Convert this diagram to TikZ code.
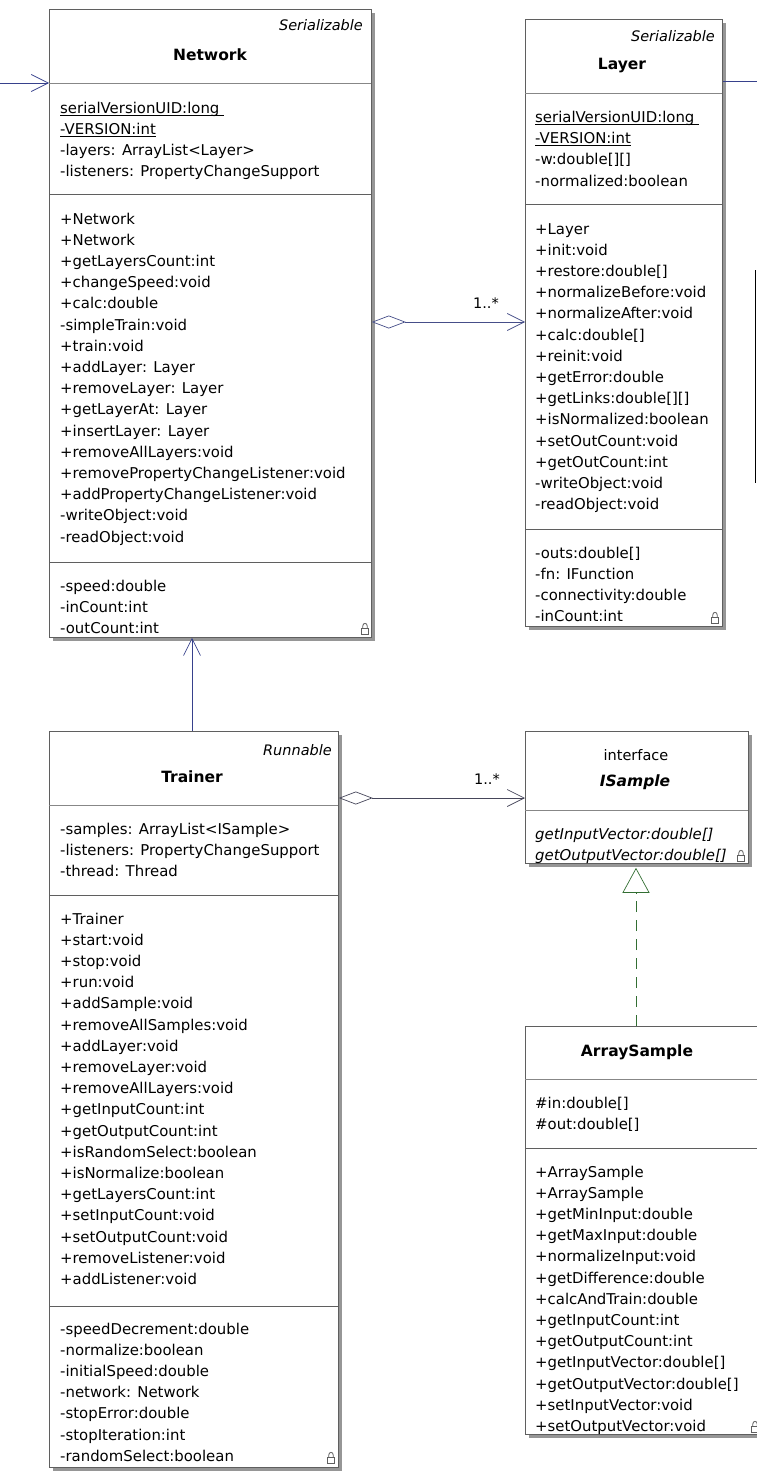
\documentclass[tikz,border=0pt]{standalone}
\usepackage{fontspec}
\setmainfont{DejaVu Sans}
\usetikzlibrary{arrows.meta,shadows}
\definecolor{boxgray}{RGB}{95,95,95}
\definecolor{sepgray}{RGB}{135,135,135}
\definecolor{shadowgray}{RGB}{150,150,150}
\definecolor{linkblue}{RGB}{55,65,140}
\definecolor{linkgray}{RGB}{70,70,90}
\definecolor{realgreen}{RGB}{50,110,50}
\newcommand\rowfont{\fontsize{14.9}{18}\selectfont}
\newcommand\ulx[1]{\setbox0=\hbox{#1}\rlap{\rule[-2.2pt]{\wd0}{0.7pt}}\box0}
\newcommand\umlrows[5]{\foreach \t [count=\i from 0] in {#5}{\node[row,#4] (#1\i) at (#2,{#3+21.2*\i}) {\t};}}
\tikzset{
  x=1pt, y=-1pt,
  classbox/.style={draw=boxgray, fill=white, line width=0.8pt, inner sep=0pt, anchor=north west,
    drop shadow={shadow xshift=4pt, shadow yshift=-4pt, fill=shadowgray, opacity=1}},
  row/.style={anchor=base west, inner sep=0pt, font=\rowfont},
  titletext/.style={anchor=base, inner sep=0pt, font=\fontsize{15.5}{18}\selectfont\bfseries},
  stereo/.style={anchor=base east, inner sep=0pt, font=\fontsize{14.5}{18}\selectfont\itshape},
  sepline/.style={boxgray, line width=0.8pt},
  titlesep/.style={sepgray, line width=0.8pt},
  mult/.style={anchor=center, inner sep=0pt, font=\fontsize{14.5}{18}\selectfont},
  assoc/.style={linkblue, line width=0.7pt, -{Straight Barb[length=17pt,width=17pt]}},
  aggr/.style={line width=0.7pt, {Diamond[open,length=34pt,width=13pt]}-{Straight Barb[length=17pt,width=17pt]}},
  realz/.style={realgreen, line width=0.7pt, dash pattern=on 11pt off 8pt, -{Triangle[open,length=25pt,width=27pt]}},
  lock/.pic={
    \draw[boxgray, line width=0.8pt] (-3.5,0) rectangle (3.5,-5.5);
    \draw[boxgray, line width=0.8pt] (-2.2,-5.5) -- (-2.2,-8) .. controls (-2.2,-11.5) and (2.2,-11.5) .. (2.2,-8) -- (2.2,-5.5);
  }
}
\begin{document}
\begin{tikzpicture}
\useasboundingbox (0,0) rectangle (757,1472);

% ---------- Network ----------
\node[classbox, minimum width=322pt, minimum height=628pt] (network) at (49,9) {};
\node[stereo] (netst) at (363,31) {Serializable};
\node[titletext] (nett) at (210,60) {Network};
\draw[titlesep] (49,83) -- (371,83);
\umlrows{netA}{60}{113}{}{\ulx{serialVersionUID:long\ },\ulx{-VERSION:int},-layers: ArrayList<Layer>,-listeners: PropertyChangeSupport}
\draw[sepline] (49,194) -- (371,194);
\umlrows{netM}{60}{224}{}{+Network,+Network,+getLayersCount:int,+changeSpeed:void,+calc:double,-simpleTrain:void,+train:void,+addLayer: Layer,+removeLayer: Layer,+getLayerAt: Layer,+insertLayer: Layer,+removeAllLayers:void,+removePropertyChangeListener:void,+addPropertyChangeListener:void,-writeObject:void,-readObject:void}
\draw[sepline] (49,562) -- (371,562);
\umlrows{netF}{60}{591}{}{-speed:double,-inCount:int,-outCount:int}
\pic at (365,634) {lock};

% ---------- Layer ----------
\node[classbox, minimum width=197pt, minimum height=607pt] (layer) at (525,19) {};
\node[stereo] (layst) at (715,42) {Serializable};
\node[titletext] (layt) at (622,70) {Layer};
\draw[titlesep] (525,93) -- (722,93);
\umlrows{layA}{535}{122.5}{}{\ulx{serialVersionUID:long\ },\ulx{-VERSION:int},-w:double[][],-normalized:boolean}
\draw[sepline] (525,204) -- (722,204);
\umlrows{layM}{535}{234}{}{+Layer,+init:void,+restore:double[],+normalizeBefore:void,+normalizeAfter:void,+calc:double[],+reinit:void,+getError:double,+getLinks:double[][],+isNormalized:boolean,+setOutCount:void,+getOutCount:int,-writeObject:void,-readObject:void}
\draw[sepline] (525,529) -- (722,529);
\umlrows{layF}{535}{558}{}{-outs:double[],-fn: IFunction,-connectivity:double,-inCount:int}
\pic at (715,623) {lock};

% ---------- Trainer ----------
\node[classbox, minimum width=289pt, minimum height=736pt] (trainer) at (49,731) {};
\node[stereo] (trst) at (332,755) {Runnable};
\node[titletext] (trt) at (192,782) {Trainer};
\draw[titlesep] (49,805) -- (338,805);
\umlrows{trA}{60}{834}{}{-samples: ArrayList<ISample>,-listeners: PropertyChangeSupport,-thread: Thread}
\draw[sepline] (49,895) -- (338,895);
\umlrows{trM}{60}{924}{}{+Trainer,+start:void,+stop:void,+run:void,+addSample:void,+removeAllSamples:void,+addLayer:void,+removeLayer:void,+removeAllLayers:void,+getInputCount:int,+getOutputCount:int,+isRandomSelect:boolean,+isNormalize:boolean,+getLayersCount:int,+setInputCount:void,+setOutputCount:void,+removeListener:void,+addListener:void}
\draw[sepline] (49,1306) -- (338,1306);
\umlrows{trF}{60}{1334}{}{-speedDecrement:double,-normalize:boolean,-initialSpeed:double,-network: Network,-stopError:double,-stopIteration:int,-randomSelect:boolean}
\pic at (331,1463) {lock};

% ---------- ISample ----------
\node[classbox, minimum width=223pt, minimum height=132pt] (isample) at (525,731) {};
\node[anchor=base, inner sep=0pt, font=\fontsize{14.5}{18}\selectfont] (ist) at (636,760) {interface};
\node[titletext, font=\fontsize{15.5}{18}\selectfont\bfseries\itshape] (ist2) at (635,786) {ISample};
\draw[titlesep] (525,810) -- (748,810);
\umlrows{isM}{535}{839}{font=\rowfont\itshape}{getInputVector:double[],getOutputVector:double[]}
\pic at (741,861) {lock};

% ---------- ArraySample ----------
\node[classbox, minimum width=240pt, minimum height=408pt] (arraysample) at (525,1026) {};
\node[titletext] (ast) at (637,1056) {ArraySample};
\draw[titlesep] (525,1079) -- (765,1079);
\umlrows{asA}{535}{1108}{}{\#in:double[],\#out:double[]}
\draw[sepline] (525,1148) -- (765,1148);
\umlrows{asM}{535}{1177}{}{+ArraySample,+ArraySample,+getMinInput:double,+getMaxInput:double,+normalizeInput:void,+getDifference:double,+calcAndTrain:double,+getInputCount:int,+getOutputCount:int,+getInputVector:double[],+getOutputVector:double[],+setInputVector:void,+setOutputVector:void}
\pic at (755,1432) {lock};

% ---------- connectors ----------
\coordinate (inl) at (0,83);
\draw[assoc] (inl) -- (inl -| network.west);
\coordinate (outr) at (757,81);
\draw[linkblue, line width=0.7pt] (outr -| layer.east) -- (outr);
\draw[aggr, linkblue!80!gray] (network.east |- 0,322) -- (layer.west |- 0,322);
\node[mult] (m1) at (486,303) {1..*};
\draw[assoc] (trainer.north -| 192,0) -- (network.south -| 192,0);
\draw[aggr, linkgray] (trainer.east |- 0,798) -- (isample.west |- 0,798);
\node[mult] (m2) at (487,779) {1..*};
\draw[realz, shorten >=4pt] (arraysample.north -| 636,0) -- (isample.south -| 636,0);

% partial edge at the right border
\coordinate (vr1) at (755,270);
\coordinate (vr2) at (755,483);
\draw[black, line width=0.9pt] (vr1) -- (vr2);
\end{tikzpicture}
\end{document}
